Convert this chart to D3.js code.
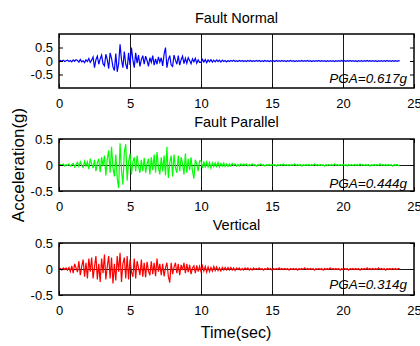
<!DOCTYPE html>
<html>
<head>
<meta charset="utf-8">
<script src="https://cdn.jsdelivr.net/npm/d3@7/dist/d3.min.js"></script>
<style>
  body { margin: 0; background: #fff; }
  svg { display: block; font-family: "Liberation Sans", Arial, sans-serif; }
</style>
</head>
<body>
<svg id="chart" width="420" height="346"></svg>
<script>
// sample step of the records (sec)
const dt = 0.1;

// Fault Normal acceleration (g), one row = 1 sec
const faultNormal = [
  0.00, 0.02, -0.01, 0.03, -0.02, 0.01, 0.03, -0.02, 0.02, -0.03,
  0.04, -0.01, 0.05, 0.02, -0.04, 0.06, -0.03, 0.01, -0.06, 0.04,
  -0.02, 0.09, -0.05, 0.03, 0.15, -0.25, 0.05, 0.18, -0.12, 0.08,
  0.22, -0.10, -0.18, 0.25, 0.05, -0.28, 0.30, 0.10, -0.22, -0.35,
  0.28, -0.40, -0.10, 0.617, 0.05, -0.25, 0.35, -0.12, -0.30, 0.30,
  -0.15, 0.50, 0.05, -0.25, 0.30, -0.08, 0.22, -0.20, 0.05, 0.20,
  -0.12, 0.18, 0.02, -0.20, 0.12, -0.05, 0.20, -0.15, 0.08, -0.12,
  0.15, -0.04, 0.12, -0.18, 0.25, 0.50, -0.25, 0.05, 0.20, -0.15,
  -0.20, 0.22, 0.03, -0.12, 0.20, -0.15, 0.05, 0.18, -0.10, 0.10,
  -0.08, 0.12, 0.02, -0.10, 0.08, -0.03, 0.10, -0.08, 0.04, -0.05,
  -0.05, 0.06, -0.04, 0.05, -0.06, 0.04, -0.03, 0.05, -0.04, 0.03,
  -0.03, 0.04, -0.02, 0.03, -0.04, 0.03, -0.02, 0.02, -0.03, 0.02,
  -0.02, 0.02, -0.01, 0.03, -0.02, 0.01, -0.02, 0.02, -0.01, 0.02,
  -0.02, 0.01, -0.02, 0.02, -0.01, 0.02, -0.02, 0.01, -0.01, 0.02,
  -0.01, 0.02, -0.02, 0.01, -0.02, 0.02, -0.01, 0.01, -0.02, 0.01,
  -0.01, 0.01, -0.02, 0.02, -0.01, 0.01, -0.01, 0.02, -0.01, 0.01,
  -0.02, 0.01, -0.01, 0.02, -0.01, 0.01, -0.02, 0.01, -0.01, 0.01,
  -0.01, 0.02, -0.01, 0.01, -0.01, 0.02, -0.01, 0.01, -0.02, 0.01,
  -0.01, 0.01, -0.01, 0.02, -0.01, 0.01, -0.01, 0.01, -0.02, 0.01,
  -0.01, 0.01, -0.01, 0.01, -0.02, 0.01, -0.01, 0.01, -0.01, 0.02,
  -0.01, 0.01, -0.01, 0.01, -0.01, 0.02, -0.01, 0.01, -0.01, 0.01,
  -0.02, 0.01, -0.01, 0.01, -0.01, 0.01, -0.01, 0.02, -0.01, 0.01,
  -0.01, 0.01, -0.01, 0.01, -0.02, 0.01, -0.01, 0.01, -0.01, 0.01,
  -0.01, 0.02, -0.01, 0.01, -0.01, 0.01, -0.01, 0.01, -0.01, 0.01,
  0.00
];

// Fault Parallel acceleration (g)
const faultParallel = [
  0.00, 0.01, -0.01, 0.02, -0.02, 0.01, -0.01, 0.02, -0.02, 0.01,
  0.03, -0.04, 0.01, 0.05, -0.03, 0.06, -0.01, -0.05, 0.07, -0.02,
  0.06, -0.08, 0.12, 0.02, -0.06, 0.10, -0.12, 0.04, 0.12, -0.14,
  0.15, -0.02, 0.18, -0.20, 0.12, 0.28, -0.15, 0.35, -0.05, -0.22,
  0.20, -0.25, -0.444, 0.42, -0.10, -0.38, 0.25, 0.40, -0.30, 0.05,
  0.22, -0.18, 0.05, 0.15, -0.12, 0.18, -0.03, -0.15, 0.10, -0.12,
  0.14, -0.15, 0.02, 0.12, -0.18, 0.15, -0.10, 0.20, -0.15, 0.25,
  -0.05, -0.18, 0.15, -0.12, 0.18, -0.20, 0.35, -0.25, 0.04, 0.18,
  -0.22, 0.20, -0.05, -0.15, 0.18, -0.12, 0.15, 0.02, -0.18, 0.22,
  -0.15, 0.12, -0.10, 0.15, -0.12, -0.26, 0.10, 0.02, -0.12, 0.08,
  0.08, -0.06, 0.07, -0.05, 0.06, -0.04, 0.05, -0.06, 0.04, -0.03,
  0.04, -0.03, 0.05, -0.04, 0.03, -0.02, 0.04, -0.03, 0.02, -0.03,
  0.02, -0.02, 0.03, -0.01, 0.02, -0.02, 0.01, -0.02, 0.02, -0.01,
  0.02, -0.01, 0.02, -0.02, 0.01, -0.01, 0.02, -0.01, 0.01, -0.02,
  0.01, -0.01, 0.02, -0.01, 0.01, -0.02, 0.01, -0.01, 0.01, -0.01,
  0.01, -0.01, 0.01, -0.02, 0.01, -0.01, 0.01, -0.01, 0.02, -0.01,
  0.01, -0.01, 0.01, -0.01, 0.01, -0.01, 0.02, -0.01, 0.01, -0.01,
  0.01, -0.02, 0.01, -0.01, 0.01, -0.01, 0.01, -0.01, 0.01, -0.01,
  0.02, -0.01, 0.01, -0.01, 0.01, -0.01, 0.01, -0.02, 0.01, -0.01,
  0.01, -0.01, 0.01, -0.01, 0.02, -0.01, 0.01, -0.01, 0.01, -0.01,
  0.01, -0.01, 0.01, -0.02, 0.01, -0.01, 0.01, -0.01, 0.01, -0.01,
  0.01, -0.01, 0.02, -0.01, 0.01, -0.01, 0.01, -0.01, 0.01, -0.02,
  0.01, -0.01, 0.01, -0.01, 0.01, -0.01, 0.02, -0.01, 0.01, -0.01,
  0.01, -0.01, 0.01, -0.01, 0.01, -0.02, 0.01, -0.01, 0.01, -0.01,
  0.00
];

// Vertical acceleration (g)
const vertical = [
  0.00, 0.01, -0.02, 0.02, -0.01, 0.02, -0.02, 0.03, -0.05, 0.06,
  -0.08, 0.10, 0.02, -0.06, 0.15, -0.12, 0.05, 0.18, -0.15, 0.12,
  -0.18, 0.20, -0.05, 0.22, -0.18, 0.04, 0.25, -0.20, 0.10, -0.25,
  0.20, -0.08, 0.28, -0.20, 0.05, 0.25, -0.18, 0.22, -0.28, 0.10,
  -0.22, 0.25, -0.05, 0.314, -0.25, 0.10, 0.22, -0.18, 0.25, -0.20,
  0.18, -0.05, -0.15, 0.20, -0.18, 0.15, 0.02, -0.12, 0.18, -0.15,
  0.12, -0.16, 0.14, -0.04, -0.12, 0.15, -0.10, 0.12, -0.14, 0.20,
  -0.05, 0.10, -0.12, 0.10, -0.14, 0.02, 0.12, -0.14, -0.26, 0.12,
  -0.10, 0.03, 0.12, -0.08, 0.10, -0.12, 0.08, -0.02, 0.12, -0.08,
  0.10, -0.06, 0.08, -0.10, 0.02, 0.06, -0.08, 0.07, -0.05, 0.05,
  -0.05, 0.06, -0.04, 0.05, -0.06, 0.04, -0.05, 0.03, -0.04, 0.05,
  -0.03, 0.04, -0.03, 0.02, -0.04, 0.03, -0.02, 0.03, -0.02, 0.03,
  -0.02, 0.03, -0.02, 0.02, -0.03, 0.02, -0.01, 0.02, -0.02, 0.01,
  -0.02, 0.02, -0.01, 0.02, -0.02, 0.01, -0.02, 0.02, -0.01, 0.01,
  -0.01, 0.02, -0.01, 0.01, -0.02, 0.01, -0.01, 0.02, -0.01, 0.01,
  -0.02, 0.01, -0.01, 0.01, -0.01, 0.02, -0.01, 0.01, -0.01, 0.01,
  -0.01, 0.01, -0.02, 0.01, -0.01, 0.01, -0.01, 0.01, -0.02, 0.01,
  -0.01, 0.01, -0.01, 0.02, -0.01, 0.01, -0.01, 0.01, -0.01, 0.01,
  -0.02, 0.01, -0.01, 0.01, -0.01, 0.01, -0.02, 0.01, -0.01, 0.01,
  -0.01, 0.02, -0.01, 0.01, -0.01, 0.01, -0.01, 0.01, -0.02, 0.01,
  -0.01, 0.01, -0.01, 0.01, -0.02, 0.01, -0.01, 0.01, -0.01, 0.01,
  -0.01, 0.01, -0.02, 0.01, -0.01, 0.01, -0.01, 0.02, -0.01, 0.01,
  -0.01, 0.01, -0.01, 0.01, -0.01, 0.02, -0.01, 0.01, -0.01, 0.01,
  -0.02, 0.01, -0.01, 0.01, -0.01, 0.01, -0.01, 0.01, -0.01, 0.01,
  0.00
];

const titles = ['Fault Normal', 'Fault Parallel', 'Vertical'];
const pgaLabels = ['PGA=0.617g', 'PGA=0.444g', 'PGA=0.314g'];
const colors = ['#0000ff', '#00ff00', '#ff0000'];
const yDomains = [[-1, 1], [-0.5, 0.5], [-0.5, 0.5]];
const yTicks = [-0.5, 0, 0.5];
const xTicks = [0, 5, 10, 15, 20, 25];
const xGrid = [5, 10, 15, 20];
const yGrid = [[], [0], [0]];

// layout (pixels)
const left = 59, right = 414;
const panelTop = [34, 139, 243];
const panelBottom = [88, 191, 295];
const titleY = [23, 127, 230];
const pgaY = [83, 188, 289];

const series = [faultNormal, faultParallel, vertical];

const svg = d3.select('#chart');
const x = d3.scaleLinear().domain([0, 25]).range([left, right]);

series.forEach((values, p) => {
  const top = panelTop[p], bottom = panelBottom[p];
  const h = bottom - top;
  const y = d3.scaleLinear().domain(yDomains[p]).range([bottom, top]);
  const g = svg.append('g');

  // grid lines (drawn under the trace)
  g.append('g')
    .attr('transform', 'translate(0,' + bottom + ')')
    .call(d3.axisBottom(x).tickValues(xGrid).tickSize(-h).tickFormat(''))
    .call(s => s.select('.domain').remove())
    .selectAll('line').attr('stroke', '#1a1a1a').attr('stroke-width', 1);

  g.append('g')
    .attr('transform', 'translate(' + left + ',0)')
    .call(d3.axisLeft(y).tickValues(yGrid[p]).tickSize(-(right - left)).tickFormat(''))
    .call(s => s.select('.domain').remove())
    .selectAll('line').attr('stroke', '#1a1a1a').attr('stroke-width', 1);

  // acceleration trace
  const line = d3.line()
    .x((d, i) => x(i * dt))
    .y(d => y(d));
  g.append('path')
    .datum(values)
    .attr('fill', 'none')
    .attr('stroke', colors[p])
    .attr('stroke-width', 1.2)
    .attr('stroke-linejoin', 'miter')
    .attr('d', line);

  // axes with inward ticks on all four sides
  const fmt = d => String(d);
  const bottomAxis = g.append('g')
    .attr('transform', 'translate(0,' + bottom + ')')
    .call(d3.axisBottom(x).tickValues(xTicks).tickSizeInner(-4).tickSizeOuter(0).tickPadding(11).tickFormat(fmt));
  const topAxis = g.append('g')
    .attr('transform', 'translate(0,' + top + ')')
    .call(d3.axisTop(x).tickValues(xTicks).tickSizeInner(-4).tickSizeOuter(0).tickFormat(''));
  const leftAxis = g.append('g')
    .attr('transform', 'translate(' + left + ',0)')
    .call(d3.axisLeft(y).tickValues(yTicks).tickSizeInner(-4).tickSizeOuter(0).tickPadding(6).tickFormat(fmt));
  const rightAxis = g.append('g')
    .attr('transform', 'translate(' + right + ',0)')
    .call(d3.axisRight(y).tickValues(yTicks).tickSizeInner(-4).tickSizeOuter(0).tickFormat(''));

  [bottomAxis, topAxis, leftAxis, rightAxis].forEach(a => {
    a.select('.domain').remove();
    a.selectAll('line').attr('stroke', '#000');
    a.selectAll('text')
      .attr('fill', '#000')
      .style('font-family', '"Liberation Sans", Arial, sans-serif')
      .style('font-size', '13px');
  });

  // frame
  g.append('rect')
    .attr('x', left).attr('y', top)
    .attr('width', right - left).attr('height', h)
    .attr('fill', 'none')
    .attr('stroke', '#000')
    .attr('stroke-width', 1.5);

  // title
  g.append('text')
    .attr('x', (left + right) / 2)
    .attr('y', titleY[p])
    .attr('text-anchor', 'middle')
    .style('font-size', '14.5px')
    .text(titles[p]);

  // PGA note
  g.append('text')
    .attr('x', 407)
    .attr('y', pgaY[p])
    .attr('text-anchor', 'end')
    .style('font-size', '13.5px')
    .style('font-style', 'italic')
    .text(pgaLabels[p]);
});

// shared axis labels
svg.append('text')
  .attr('transform', 'translate(24,165) rotate(-90)')
  .attr('text-anchor', 'middle')
  .style('font-size', '17px')
  .text('Acceleration(g)');

svg.append('text')
  .attr('x', 236)
  .attr('y', 338)
  .attr('text-anchor', 'middle')
  .style('font-size', '16px')
  .text('Time(sec)');
</script>
</body>
</html>
